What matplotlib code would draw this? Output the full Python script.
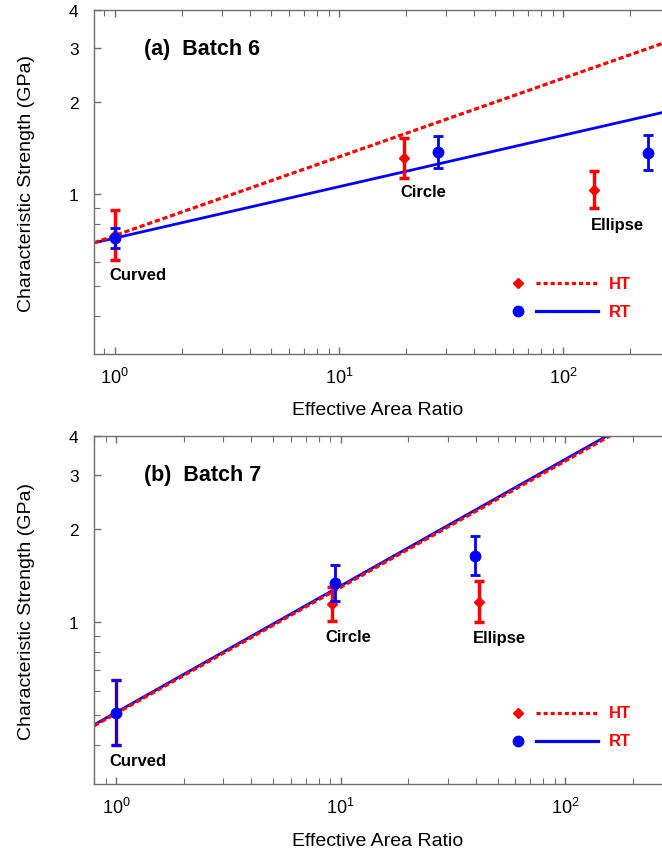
import matplotlib.pyplot as plt
import numpy as np
from matplotlib.ticker import FixedLocator, FormatStrFormatter, NullFormatter

plt.rcParams['font.family'] = ['Liberation Sans', 'DejaVu Sans']
plt.rcParams['mathtext.fontset'] = 'custom'
plt.rcParams['mathtext.rm'] = 'Liberation Sans'
plt.rcParams['mathtext.it'] = 'Liberation Sans:italic'
plt.rcParams['mathtext.bf'] = 'Liberation Sans:bold'
plt.rcParams['lines.scale_dashes'] = False

RED = '#ff0000'
BLUE = '#0000ff'
SPINE = '#6e6e6e'

# Batch 6 (HT = red diamonds, RT = blue circles)
b6_ht_x = [1.0, 19.6, 138.0]
b6_ht_y = [0.735, 1.311, 1.03]
b6_ht_lo = [0.610, 1.130, 0.899]
b6_ht_hi = [0.886, 1.522, 1.187]
b6_rt_x = [1.0, 27.7, 239.0]
b6_rt_y = [0.719, 1.372, 1.364]
b6_rt_lo = [0.667, 1.217, 1.196]
b6_rt_hi = [0.774, 1.545, 1.560]
b6_ht_fit = (0.732, 0.257)   # coefficient, exponent
b6_rt_fit = (0.718, 0.168)
b6_label_x = [1.27, 23.8, 174.6]
b6_label_y = [0.546, 1.018, 0.794]

# Batch 7
b7_ht_x = [1.0, 9.12, 41.5]
b7_ht_y = [0.506, 1.143, 1.166]
b7_ht_lo = [0.400, 1.007, 1.005]
b7_ht_hi = [0.651, 1.297, 1.356]
b7_rt_x = [1.0, 9.44, 39.8]
b7_rt_y = [0.510, 1.339, 1.640]
b7_rt_lo = [0.400, 1.174, 1.420]
b7_rt_hi = [0.651, 1.530, 1.897]
b7_ht_fit = (0.507, 0.408)
b7_rt_fit = (0.511, 0.409)
b7_label_x = [1.253, 10.8, 51.1]
b7_label_y = [0.358, 0.901, 0.89]

shape_labels = ['Curved', 'Circle', 'Ellipse']
y_major = [1, 2, 3, 4]
y_minor = [0.4, 0.5, 0.6, 0.7, 0.8, 0.9]


def legend_key(ax, ypos, marker, ms, color, dashes, text):
    ax.plot([0.747], [ypos], marker=marker, ms=ms, color=color,
            linestyle='none', transform=ax.transAxes)
    ln, = ax.plot([0.778, 0.887], [ypos, ypos], color=color, lw=2.3,
                  transform=ax.transAxes)
    if dashes:
        ln.set_dashes(dashes)
    ax.text(0.906, ypos, text, color=RED, fontsize=12, fontweight='bold',
            va='center', ha='left', transform=ax.transAxes)


def draw_panel(ax, title, xlim, ht, rt, ht_fit, rt_fit, lab_x, lab_y):
    xs = np.array(xlim)
    # fitted power-law lines
    ax.plot(xs, rt_fit[0] * xs ** rt_fit[1], color=BLUE, lw=2.0, zorder=2)
    ax.plot(xs, ht_fit[0] * xs ** ht_fit[1], color=RED, lw=2.3,
            dashes=(3.8, 2.0), zorder=2)

    x, y, lo, hi = [np.array(v) for v in ht]
    ax.errorbar(x, y, yerr=[y - lo, hi - y], fmt='D', color=RED, ms=5,
                elinewidth=2.5, capsize=3.6, capthick=2.5, zorder=3)
    x, y, lo, hi = [np.array(v) for v in rt]
    ax.errorbar(x, y, yerr=[y - lo, hi - y], fmt='o', color=BLUE, ms=7.5,
                elinewidth=2.0, capsize=3.4, capthick=2.0, zorder=4)

    for lx, ly, name in zip(lab_x, lab_y, shape_labels):
        ax.text(lx, ly, name, fontsize=12, fontweight='bold', ha='center', va='center')

    ax.text(0.088, 0.889, title, transform=ax.transAxes, fontsize=15.5,
            fontweight='bold', va='center', ha='left')

    legend_key(ax, 0.205, 'D', 5.2, RED, (2.9, 2.2), 'HT')
    legend_key(ax, 0.125, 'o', 7.5, BLUE, None, 'RT')

    ax.set_xscale('log')
    ax.set_yscale('log')
    ax.set_xlim(xlim)
    ax.set_ylim(0.3, 4)
    ax.yaxis.set_major_locator(FixedLocator(y_major))
    ax.yaxis.set_major_formatter(FormatStrFormatter('%g'))
    ax.yaxis.set_minor_locator(FixedLocator(y_minor))
    ax.yaxis.set_minor_formatter(NullFormatter())
    ax.xaxis.set_minor_formatter(NullFormatter())

    for side in ['left', 'top', 'bottom']:
        ax.spines[side].set_color(SPINE)
        ax.spines[side].set_linewidth(1.0)
    ax.spines['right'].set_visible(False)
    ax.tick_params(which='both', direction='in', top=True, right=False,
                   color=SPINE, labelcolor='black')
    ax.tick_params(which='major', length=5, width=1)
    ax.tick_params(which='minor', length=4, width=0.8)
    ax.tick_params(axis='y', labelsize=12.5, pad=11)
    ax.tick_params(axis='x', labelsize=13, pad=9)

    ax.set_xlabel('Effective Area Ratio', fontsize=14)
    ax.set_ylabel('Characteristic Strength (GPa)', fontsize=14)
    ax.xaxis.set_label_coords(0.5, -0.138)
    ax.yaxis.set_label_coords(-0.104, 0.5)


fig = plt.figure(figsize=(6.62, 8.53), dpi=100)
ax1 = fig.add_axes([0.142, 0.5838, 0.858, 0.4033])
ax2 = fig.add_axes([0.142, 0.0797, 0.858, 0.408])

draw_panel(ax1, '(a)  Batch 6', (0.808, 277),
           (b6_ht_x, b6_ht_y, b6_ht_lo, b6_ht_hi),
           (b6_rt_x, b6_rt_y, b6_rt_lo, b6_rt_hi),
           b6_ht_fit, b6_rt_fit, b6_label_x, b6_label_y)
draw_panel(ax2, '(b)  Batch 7', (0.798, 270),
           (b7_ht_x, b7_ht_y, b7_ht_lo, b7_ht_hi),
           (b7_rt_x, b7_rt_y, b7_rt_lo, b7_rt_hi),
           b7_ht_fit, b7_rt_fit, b7_label_x, b7_label_y)

fig.savefig('out.png', dpi=100)
